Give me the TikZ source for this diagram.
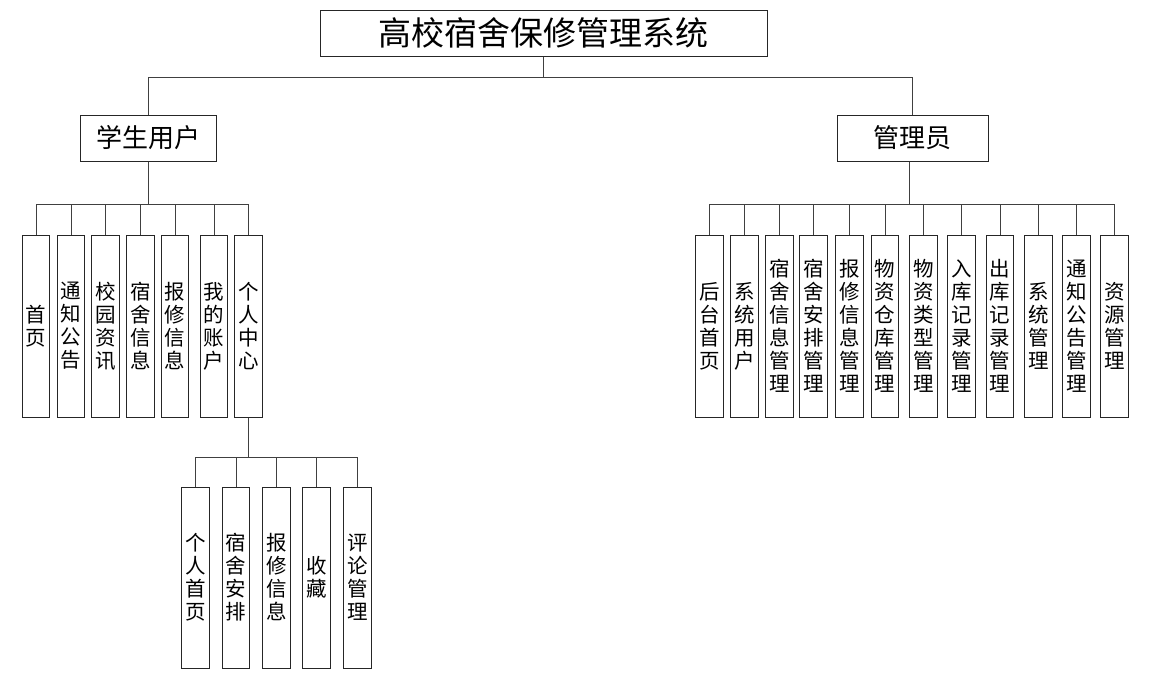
\documentclass[tikz,border=0pt]{standalone}
\usepackage{fontspec}
\newfontfamily\cjk{Noto Sans CJK SC}
\begin{document}
\begin{tikzpicture}[x=1pt,y=-1pt,
  box/.style={draw=black!85,line width=1pt,rectangle,inner sep=0pt,align=center,text=black},
  topbox/.style={box,minimum width=447pt,minimum height=46pt,font=\cjk\fontsize{33}{36}\selectfont},
  rolebox/.style={box,minimum height=46pt,font=\cjk\fontsize{26}{28}\selectfont},
  vbox/.style={box,minimum width=27.5pt,minimum height=182pt,font=\cjk\fontsize{20.5}{23}\selectfont},
  conn/.style={draw=black!75,line width=1pt}]
\useasboundingbox (0,0) rectangle (1150,681);
% top
\node[topbox] (title) at (543.5,33) {高校宿舍保修管理系统};
\node[rolebox,minimum width=136pt] (stu) at (148,138) {学生用户};
\node[rolebox,minimum width=151pt] (adm) at (912.5,138) {管理员};
\draw[conn] (title.south) -- ++(0,21) -| (stu.north);
\draw[conn] (title.south) -- ++(0,21) -| (adm.north);
% student children
\node[vbox] (l1) at (36,326) {首\\页};
\node[vbox] (l2) at (71,326) {通\\知\\公\\告};
\node[vbox] (l3) at (105.5,326) {校\\园\\资\\讯};
\node[vbox] (l4) at (140.5,326) {宿\\舍\\信\\息};
\node[vbox] (l5) at (175,326) {报\\修\\信\\息};
\node[vbox] (l6) at (214,326) {我\\的\\账\\户};
\node[vbox] (l7) at (248.5,326) {个\\人\\中\\心};
\foreach \n in {l1,l2,l3,l4,l5,l6,l7}
  \draw[conn] (stu.south) -- ++(0,43) -| (\n.north);
% personal center children
\node[vbox,minimum height=181pt] (s1) at (195.5,577.5) {个\\人\\首\\页};
\node[vbox,minimum height=181pt] (s2) at (236,577.5) {宿\\舍\\安\\排};
\node[vbox,minimum height=181pt] (s3) at (276.5,577.5) {报\\修\\信\\息};
\node[vbox,minimum height=181pt] (s4) at (316.5,577.5) {收\\藏};
\node[vbox,minimum height=181pt] (s5) at (357.5,577.5) {评\\论\\管\\理};
\foreach \n in {s1,s2,s3,s4,s5}
  \draw[conn] (l7.south) -- ++(0,40) -| (\n.north);
% admin children
\node[vbox] (r1) at (709.5,326) {后\\台\\首\\页};
\node[vbox] (r2) at (744.5,326) {系\\统\\用\\户};
\node[vbox] (r3) at (779.5,326) {宿\\舍\\信\\息\\管\\理};
\node[vbox] (r4) at (813.5,326) {宿\\舍\\安\\排\\管\\理};
\node[vbox] (r5) at (849.5,326) {报\\修\\信\\息\\管\\理};
\node[vbox] (r6) at (885,326) {物\\资\\仓\\库\\管\\理};
\node[vbox] (r7) at (923.5,326) {物\\资\\类\\型\\管\\理};
\node[vbox] (r8) at (961.5,326) {入\\库\\记\\录\\管\\理};
\node[vbox] (r9) at (1000,326) {出\\库\\记\\录\\管\\理};
\node[vbox] (r10) at (1038.5,326) {系\\统\\管\\理};
\node[vbox] (r11) at (1076.5,326) {通\\知\\公\\告\\管\\理};
\node[vbox] (r12) at (1114.5,326) {资\\源\\管\\理};
\foreach \n in {r1,r2,r3,r4,r5,r6,r7,r8,r9,r10,r11,r12}
  \draw[conn] ([xshift=-3pt]adm.south) -- ++(0,43) -| (\n.north);
\end{tikzpicture}
\end{document}
